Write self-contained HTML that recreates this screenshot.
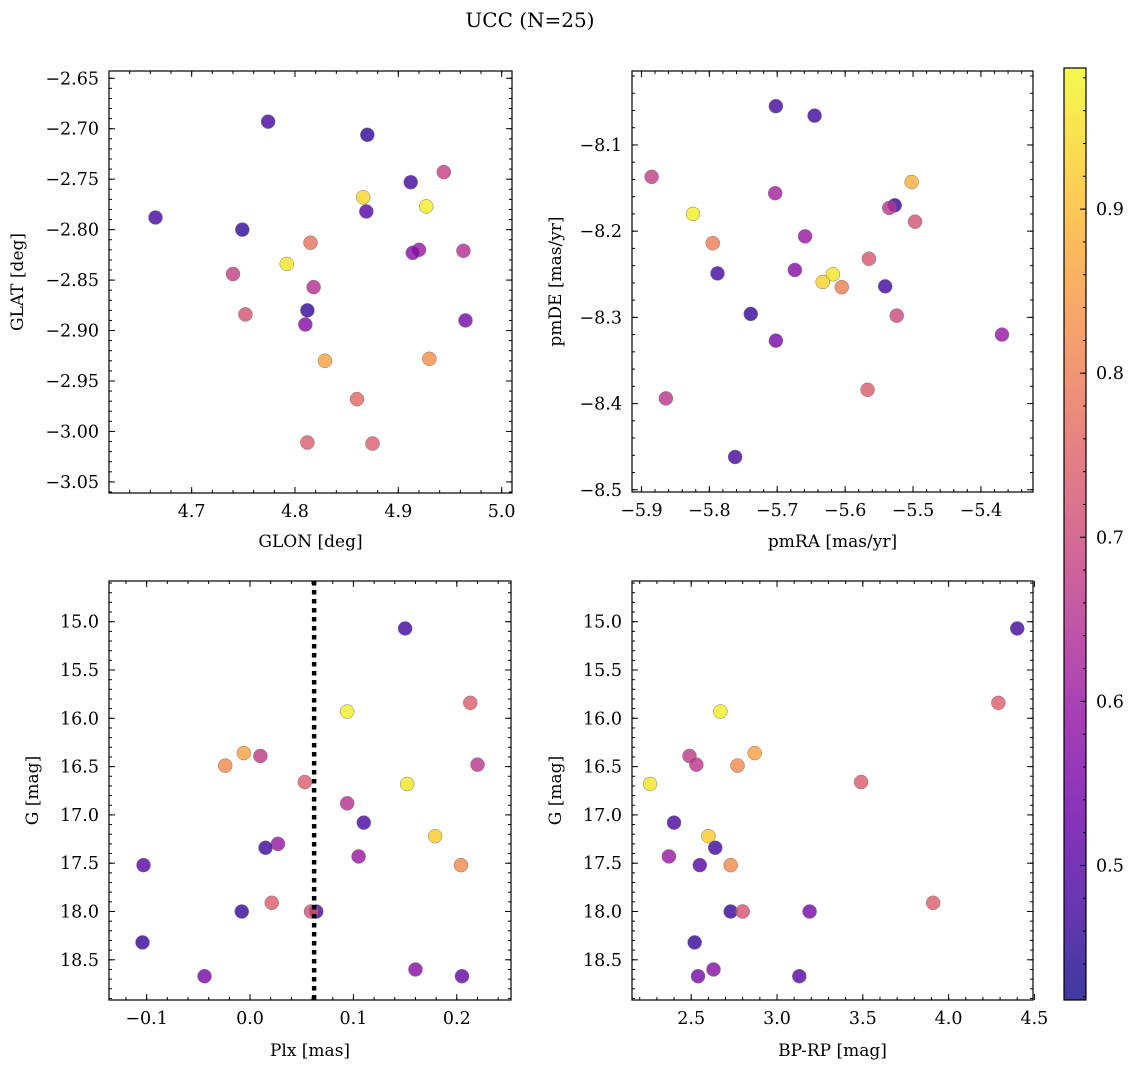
<!DOCTYPE html>
<html><head><meta charset="utf-8"><style>
html,body{margin:0;padding:0;background:#fff;}
svg text{font-family:"DejaVu Serif","Liberation Serif",serif;fill:#000;}
</style></head><body>
<svg id="fig" width="1136" height="1068" viewBox="0 0 1136 1068" xmlns="http://www.w3.org/2000/svg">
<defs>
<linearGradient id="plasma" x1="0" y1="1" x2="0" y2="0">
<stop offset="0" stop-color="#0d0887"/><stop offset="0.1" stop-color="#41049d"/><stop offset="0.2" stop-color="#6a00a8"/><stop offset="0.3" stop-color="#8f0da4"/><stop offset="0.4" stop-color="#b12a90"/><stop offset="0.5" stop-color="#cc4778"/><stop offset="0.6" stop-color="#e16462"/><stop offset="0.7" stop-color="#f2844b"/><stop offset="0.8" stop-color="#fca636"/><stop offset="0.9" stop-color="#fcce25"/><stop offset="1" stop-color="#f0f921"/>
</linearGradient>
</defs>
<text x="530" y="27" font-size="20" text-anchor="middle">UCC (N=25)</text>
</svg>
<script>
// ---- data ----
const tlX=[4.665,4.774,4.870,4.749,4.912,4.944,4.866,4.927,4.869,4.815,4.963,4.920,4.914,4.792,4.740,4.818,4.752,4.812,4.810,4.965,4.829,4.930,4.860,4.812,4.875];
const tlY=[-2.788,-2.693,-2.706,-2.800,-2.753,-2.743,-2.768,-2.777,-2.782,-2.813,-2.821,-2.820,-2.823,-2.834,-2.844,-2.857,-2.884,-2.880,-2.894,-2.890,-2.930,-2.928,-2.968,-3.011,-3.012];
const tlC=[0.48,0.48,0.45,0.45,0.47,0.68,0.94,0.97,0.50,0.78,0.65,0.60,0.57,0.96,0.68,0.65,0.72,0.46,0.57,0.55,0.86,0.83,0.76,0.74,0.74];
const trX=[-5.702,-5.645,-5.885,-5.703,-5.502,-5.824,-5.497,-5.527,-5.535,-5.659,-5.565,-5.795,-5.788,-5.674,-5.618,-5.633,-5.605,-5.541,-5.524,-5.739,-5.702,-5.369,-5.567,-5.864,-5.762];
const trY=[-8.055,-8.066,-8.137,-8.156,-8.143,-8.180,-8.189,-8.170,-8.173,-8.206,-8.232,-8.214,-8.249,-8.245,-8.250,-8.259,-8.265,-8.264,-8.298,-8.296,-8.327,-8.320,-8.384,-8.394,-8.462];
const trC=[0.48,0.47,0.68,0.62,0.88,0.97,0.72,0.46,0.66,0.60,0.73,0.80,0.48,0.57,0.96,0.93,0.80,0.47,0.70,0.46,0.55,0.60,0.74,0.66,0.48];
const blX=[0.150,0.213,0.094,-0.006,0.010,-0.024,0.220,0.053,0.152,0.094,0.110,0.179,0.027,0.015,0.105,-0.103,0.204,0.021,-0.008,0.064,0.059,-0.104,0.160,-0.044,0.205];
const blY=[15.07,15.84,15.93,16.36,16.39,16.49,16.48,16.66,16.68,16.88,17.08,17.22,17.30,17.34,17.43,17.52,17.52,17.91,18.00,18.00,18.00,18.32,18.60,18.67,18.67];
const blC=[0.47,0.74,0.97,0.86,0.67,0.82,0.66,0.74,0.96,0.65,0.48,0.92,0.60,0.47,0.60,0.50,0.82,0.74,0.46,0.47,0.72,0.46,0.57,0.55,0.52];
const brX=[4.40,4.29,2.67,2.87,2.49,2.53,2.77,3.49,2.26,2.40,2.60,2.64,2.37,2.55,2.73,3.91,2.73,2.80,3.19,2.52,2.63,2.54,3.13];
const brY=[15.07,15.84,15.93,16.36,16.39,16.48,16.49,16.66,16.68,17.08,17.22,17.34,17.43,17.52,17.52,17.91,18.00,18.00,18.00,18.32,18.60,18.67,18.67];
const brC=[0.47,0.74,0.97,0.86,0.67,0.66,0.82,0.74,0.96,0.48,0.92,0.47,0.60,0.50,0.82,0.74,0.46,0.72,0.55,0.46,0.57,0.55,0.50];
const plxLine=[0.062];
const tlXTicks=[4.7,4.8,4.9,5.0];
const tlYTicks=[-2.65,-2.70,-2.75,-2.80,-2.85,-2.90,-2.95,-3.00,-3.05];
const trXTicks=[-5.9,-5.8,-5.7,-5.6,-5.5,-5.4];
const trYTicks=[-8.1,-8.2,-8.3,-8.4,-8.5];
const blXTicks=[-0.1,0.0,0.1,0.2];
const gTicks=[15.0,15.5,16.0,16.5,17.0,17.5,18.0,18.5];
const brXTicks=[2.5,3.0,3.5,4.0,4.5];
const cbTicks=[0.5,0.6,0.7,0.8,0.9];
const cMin=0.418, cMax=0.986;

const NS="http://www.w3.org/2000/svg";
const svg=document.getElementById('fig');
const TF=17.5, LF=17;
function mk(tag,attrs,parent){const e=document.createElementNS(NS,tag);for(const k in attrs)e.setAttribute(k,attrs[k]);(parent||svg).appendChild(e);return e;}
const stops=[[13,8,135],[65,4,157],[106,0,168],[143,13,164],[177,42,144],[204,71,120],[225,100,98],[242,132,75],[252,166,54],[252,206,37],[240,249,33]];
function plasma(v){let t=(v-cMin)/(cMax-cMin);t=Math.max(0,Math.min(1,t))*10;const i=Math.min(9,Math.floor(t)),f=t-i;const a=stops[i],b=stops[i+1];return 'rgb('+a.map((c,k)=>Math.round(c+(b[k]-c)*f)).join(',')+')';}
function fmt(v,d){const s=Math.abs(v).toFixed(d);return (v<0?'\u2212':'')+s;}

function panel(name,box,xd,yd,xs,ys,xTicks,yTicks,xMinor,yMinor,xDec,yDec,xlabel,ylabel,xlx,yly){
  const [L,T,R,B]=box;
  const g=mk('g',{});
  
  
  const X=v=>L+(v-xd[0])/(xd[1]-xd[0])*(R-L);
  const Y=v=>T+(v-yd[0])/(yd[1]-yd[0])*(B-T);
  const pts=mk('g',{},g);
  
  
  xs.d.forEach((xv,i)=>{
    const c=mk('circle',{cx:X(xv),cy:Y(ys.d[i]),r:7,fill:plasma(xs.c[i]),'fill-opacity':0.8,stroke:'#777','stroke-width':0.5},pts);
    
    
  });
  const ax=mk('g',{stroke:'#000','stroke-width':1},g);
  
  
  const lo=Math.min(xd[0],xd[1]),hi=Math.max(xd[0],xd[1]);
  for(let k=Math.ceil(lo/xMinor-1e-6);k*xMinor<=hi+1e-9;k++){const v=k*xMinor,x=X(v);mk('line',{x1:x,x2:x,y1:B,y2:B-3},ax);mk('line',{x1:x,x2:x,y1:T,y2:T+3},ax);}
  const ylo=Math.min(yd[0],yd[1]),yhi=Math.max(yd[0],yd[1]);
  for(let k=Math.ceil(ylo/yMinor-1e-6);k*yMinor<=yhi+1e-9;k++){const v=k*yMinor,y=Y(v);mk('line',{x1:L,x2:L+3,y1:y,y2:y},ax);mk('line',{x1:R,x2:R-3,y1:y,y2:y},ax);}
  xTicks.forEach(v=>{const x=X(v);mk('line',{x1:x,x2:x,y1:B,y2:B-6},ax);mk('line',{x1:x,x2:x,y1:T,y2:T+6},ax);
    const t=mk('text',{x:x,y:B+24,'font-size':TF,'text-anchor':'middle',stroke:'none'},g);t.textContent=fmt(v,xDec);
    });
  yTicks.forEach(v=>{const y=Y(v);mk('line',{x1:L,x2:L+6,y1:y,y2:y},ax);mk('line',{x1:R,x2:R-6,y1:y,y2:y},ax);
    const t=mk('text',{x:L-10,y:y+6,'font-size':TF,'text-anchor':'end',stroke:'none'},g);t.textContent=fmt(v,yDec);
    });
  mk('rect',{x:L,y:T,width:R-L,height:B-T,fill:'none',stroke:'#000','stroke-width':1.2},ax);
  const xl=mk('text',{x:(L+R)/2,y:xlx,'font-size':LF,'text-anchor':'middle'},g);xl.textContent=xlabel;
  
  const yl=mk('text',{x:0,y:0,'font-size':LF,'text-anchor':'middle',transform:'translate('+yly+','+((T+B)/2)+') rotate(-90)'},g);yl.textContent=ylabel;
  
  return {X,Y,g};
}
panel('glon-glat-panel',[109,71,512,493],[4.620,5.010],[-2.6428,-3.0610],{d:tlX,c:tlC},{d:tlY},tlXTicks,tlYTicks,0.02,0.01,1,2,'GLON [deg]','GLAT [deg]',547,23);
panel('pm-panel',[632,71,1033,492],[-5.9139,-5.3233],[-8.0142,-8.5026],{d:trX,c:trC},{d:trY},trXTicks,trYTicks,0.02,0.02,1,1,'pmRA [mas/yr]','pmDE [mas/yr]',547,561);
const bl=panel('plx-g-panel',[109,581,511,1000],[-0.1364,0.2524],[14.5787,18.9161],{d:blX,c:blC},{d:blY},blXTicks,gTicks,0.02,0.1,1,1,'Plx [mas]','G [mag]',1056,38);
plxLine.forEach(v=>{const l=mk('line',{x1:bl.X(v),x2:bl.X(v),y1:581,y2:1000,stroke:'#000','stroke-width':4.5,'stroke-dasharray':'4.5 4.5'},bl.g);
  });
panel('color-mag-panel',[632,581,1033,1000],[2.1550,4.4918],[14.5787,18.9161],{d:brX,c:brC},{d:brY},brXTicks,gTicks,0.1,0.1,1,1,'BP-RP [mag]','G [mag]',1056,561);

const cb=mk('g',{});


const cT=68,cB=1000,cL=1064,cR=1086;
mk('rect',{x:cL,y:cT,width:cR-cL,height:cB-cT,fill:'url(#plasma)','fill-opacity':0.8},cb);
mk('rect',{x:cL,y:cT,width:cR-cL,height:cB-cT,fill:'none',stroke:'#000','stroke-width':1.2},cb);
const CY=v=>cB-(v-cMin)/(cMax-cMin)*(cB-cT);
for(let k=Math.ceil(cMin/0.02);k*0.02<=cMax;k++){const y=CY(k*0.02);mk('line',{x1:cR,x2:cR-3,y1:y,y2:y,stroke:'#000'},cb);}
cbTicks.forEach(v=>{const y=CY(v);mk('line',{x1:cR,x2:cR-6,y1:y,y2:y,stroke:'#000'},cb);
  const t=mk('text',{x:cR+10,y:y+6,'font-size':TF},cb);t.textContent=v.toFixed(1);
  });
</script>
</body></html>
